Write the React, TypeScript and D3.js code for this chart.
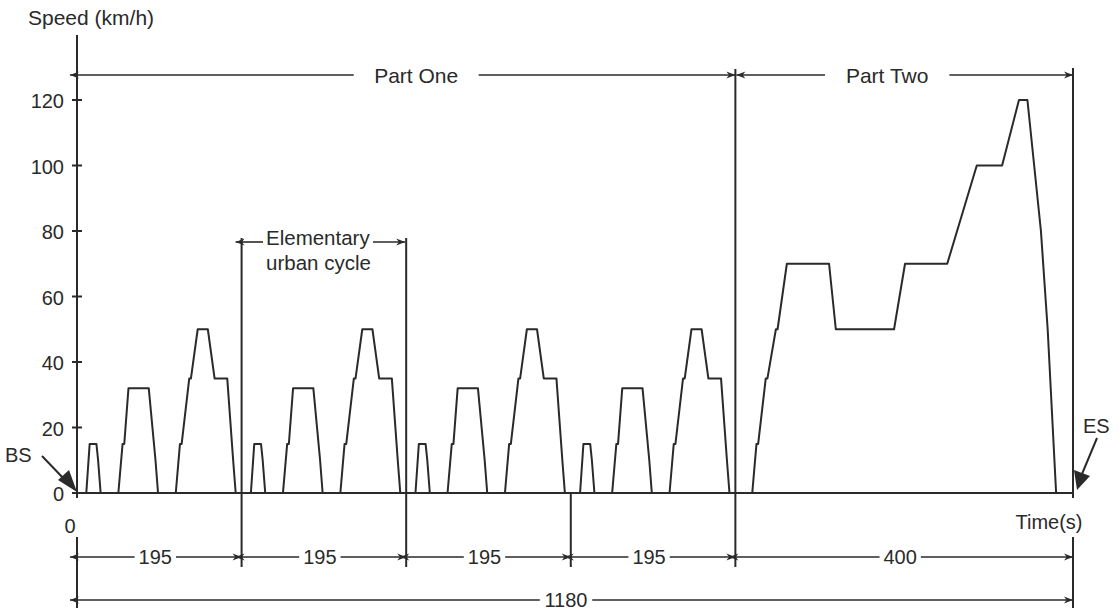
import React from "react";
import * as d3 from "d3";

// ---- data ----
const urbanSpeeds = [0, 0, 15, 15, 10, 0, 0, 15, 15, 32, 32, 10, 0, 0, 15, 15, 35, 35, 50, 50, 35, 35, 35, 10, 0, 0];
const urbanTimes1 = [0, 11, 15, 23, 25, 28, 49, 54, 56, 61, 85, 93, 96, 117, 122, 124, 133, 135, 143, 155, 163, 176, 178, 185, 188, 195];
const urbanTimes2 = [195, 206, 210, 218, 220, 223, 244, 249, 251, 256, 280, 288, 291, 312, 317, 319, 328, 330, 338, 350, 358, 371, 373, 380, 383, 390];
const urbanTimes3 = [390, 401, 405, 413, 415, 418, 439, 444, 446, 451, 475, 483, 486, 507, 512, 514, 523, 525, 533, 545, 553, 566, 568, 575, 578, 585];
const urbanTimes4 = [585, 596, 600, 608, 610, 613, 634, 639, 641, 646, 670, 678, 681, 702, 707, 709, 718, 720, 728, 740, 748, 761, 763, 770, 773, 780];
const extraUrbanTimes = [780, 800, 805, 807, 816, 818, 828, 830, 841, 891, 899, 968, 981, 1031, 1066, 1096, 1116, 1126, 1142, 1150, 1160, 1180];
const extraUrbanSpeeds = [0, 0, 15, 15, 35, 35, 50, 50, 70, 70, 50, 50, 70, 70, 100, 100, 120, 120, 80, 50, 0, 0];

const yTicks = [0, 20, 40, 60, 80, 100, 120];
const segmentBounds = [0, 195, 390, 585, 780, 1180];
const segmentLabels = ["195", "195", "195", "195", "400"];
const partBounds = [0, 780, 1180];
const partLabels = ["Part One", "Part Two"];
const totalLabel = "1180";
const cycleBounds = [195, 390];
const cycleLabel = ["Elementary", "urban cycle"];

const W = 1119;
const H = 610;
const FONT = "'Liberation Sans', Arial, Helvetica, sans-serif";
const INK = "#2a2a2a";

const x = d3.scaleLinear().domain([0, 1180]).range([77, 1073]);
const y = d3.scaleLinear().domain([0, 120]).range([493, 100]);

function textWidth(s: string, fs: number) {
  let w = 0;
  for (const c of s) {
    if (/[0-9]/.test(c)) w += 0.556;
    else if (c === " ") w += 0.278;
    else if ("Pw".includes(c)) w += 0.7;
    else if ("rt".includes(c)) w += 0.31;
    else if ("O".includes(c)) w += 0.778;
    else if ("T".includes(c)) w += 0.611;
    else w += 0.556;
  }
  return w * fs;
}

function Head({ tx, ty, dir, len = 9, half = 3.5 }: { tx: number; ty: number; dir: 1 | -1; len?: number; half?: number }) {
  const bx = tx - dir * len;
  const nx = tx - dir * len * 0.7;
  return <polygon points={`${tx},${ty} ${bx},${ty - half} ${nx},${ty} ${bx},${ty + half}`} fill={INK} />;
}

function DimRow({ x0, x1, yy, label, fs, pad, overshoot = 6, shift = 0 }: { x0: number; x1: number; yy: number; label: string; fs: number; pad: number; overshoot?: number; shift?: number }) {
  const cx = (x0 + x1) / 2 + shift;
  const tw = textWidth(label, fs);
  const gl = cx - tw / 2 - pad;
  const gr = cx + tw / 2 + pad;
  const lx = x0 - overshoot;
  const rx = x1;
  return (
    <g>
      <line x1={lx} x2={gl} y1={yy} y2={yy} stroke={INK} strokeWidth={1.6} />
      <line x1={gr} x2={rx} y1={yy} y2={yy} stroke={INK} strokeWidth={1.6} />
      <Head tx={lx} ty={yy} dir={-1} />
      <Head tx={rx} ty={yy} dir={1} />
      <text x={cx} y={yy} dy="0.36em" textAnchor="middle" fontSize={fs} fontFamily={FONT} fill={INK}>
        {label}
      </text>
    </g>
  );
}

export default function App() {
  const line = d3
    .line<[number, number]>()
    .x((d) => x(d[0]))
    .y((d) => y(d[1]));

  const urbanSets = [urbanTimes1, urbanTimes2, urbanTimes3, urbanTimes4];
  const urbanPaths = urbanSets.map((ts) => line(ts.map((t, i) => [t, urbanSpeeds[i]] as [number, number])) || "");
  const eudcPath = line(extraUrbanTimes.map((t, i) => [t, extraUrbanSpeeds[i]] as [number, number])) || "";

  const fs = 20;
  const yRow1 = 557;
  const yRow2 = 600;
  const yPart = 75;
  const yCycle = 242;
  const partShift = [10, -17];

  return (
    <svg width={W} height={H} style={{ position: "absolute", left: 0, top: 0, background: "#fff" }}>
      <rect width={W} height={H} fill="#fff" />
      <text x={28} y={25} fontSize={21} fontFamily={FONT} fill={INK}>
        Speed (km/h)
      </text>

      {/* y axis */}
      <line x1={x(0)} x2={x(0)} y1={35} y2={498} stroke={INK} strokeWidth={2} />
      {yTicks.map((v) => (
        <g key={v}>
          <line x1={x(0) - 5} x2={x(0) + 5} y1={y(v)} y2={y(v)} stroke={INK} strokeWidth={2} />
          <text x={64} y={y(v) + 8} textAnchor="end" fontSize={fs} fontFamily={FONT} fill={INK}>
            {v}
          </text>
        </g>
      ))}

      <line x1={x(0)} x2={x(1180)} y1={y(0)} y2={y(0)} stroke={INK} strokeWidth={2} />

      {/* speed trace */}
      {urbanPaths.map((p, i) => (
        <path key={i} d={p} fill="none" stroke={INK} strokeWidth={2} strokeLinejoin="round" />
      ))}
      <path d={eudcPath} fill="none" stroke={INK} strokeWidth={2} strokeLinejoin="round" />

      {/* vertical separators */}
      <line x1={x(0)} x2={x(0)} y1={537} y2={608} stroke={INK} strokeWidth={2} />
      <line x1={x(segmentBounds[1])} x2={x(segmentBounds[1])} y1={yCycle - 4} y2={567} stroke={INK} strokeWidth={2} />
      <line x1={x(segmentBounds[2])} x2={x(segmentBounds[2])} y1={yCycle - 4} y2={567} stroke={INK} strokeWidth={2} />
      <line x1={x(segmentBounds[3])} x2={x(segmentBounds[3])} y1={y(0)} y2={567} stroke={INK} strokeWidth={2} />
      <line x1={x(segmentBounds[4])} x2={x(segmentBounds[4])} y1={yPart - 6} y2={567} stroke={INK} strokeWidth={2} />
      <line x1={x(1180)} x2={x(1180)} y1={yPart - 7} y2={498} stroke={INK} strokeWidth={2} />
      <line x1={x(1180)} x2={x(1180)} y1={537} y2={608} stroke={INK} strokeWidth={2} />

      {/* Part rows */}
      {partLabels.map((lab, i) => (
        <DimRow key={lab} x0={x(partBounds[i])} x1={x(partBounds[i + 1])} yy={yPart} label={lab} fs={21} pad={20} overshoot={i === 0 ? 7 : -1} shift={partShift[i]} />
      ))}

      {/* elementary urban cycle */}
      <g>
        <line x1={x(cycleBounds[0]) - 6} x2={263} y1={yCycle} y2={yCycle} stroke={INK} strokeWidth={1.6} />
        <Head tx={x(cycleBounds[0]) - 6} ty={yCycle} dir={-1} />
        <line x1={373} x2={x(cycleBounds[1]) - 1} y1={yCycle} y2={yCycle} stroke={INK} strokeWidth={1.6} />
        <Head tx={x(cycleBounds[1]) - 1} ty={yCycle} dir={1} />
        <text x={266} y={245} fontSize={20.5} fontFamily={FONT} fill={INK}>
          {cycleLabel[0]}
        </text>
        <text x={266} y={270} fontSize={20.5} fontFamily={FONT} fill={INK}>
          {cycleLabel[1]}
        </text>
      </g>

      {/* segment rows */}
      {segmentLabels.map((lab, i) => (
        <DimRow key={i} x0={x(segmentBounds[i])} x1={x(segmentBounds[i + 1])} yy={yRow1} label={lab} fs={fs} pad={4} overshoot={i === 0 ? 7 : 6} shift={-4} />
      ))}
      <DimRow x0={x(0)} x1={x(1180)} yy={yRow2} label={totalLabel} fs={fs} pad={4} overshoot={7} shift={-9} />

      <text x={70} y={533} textAnchor="middle" fontSize={fs} fontFamily={FONT} fill={INK}>
        0
      </text>
      <text x={1049} y={529} textAnchor="middle" fontSize={fs} fontFamily={FONT} fill={INK}>
        Time(s)
      </text>

      {/* BS / ES */}
      <text x={5} y={462} fontSize={fs} fontFamily={FONT} fill={INK}>
        BS
      </text>
      <line x1={42} y1={456} x2={66} y2={481} stroke={INK} strokeWidth={2} />
      <polygon points="77,492 58,480 69,470" fill={INK} />
      <text x={1083} y={433} fontSize={fs} fontFamily={FONT} fill={INK}>
        ES
      </text>
      <line x1={1097} y1={438} x2={1082} y2={474} stroke={INK} strokeWidth={2} />
      <polygon points="1077,490 1074,470 1090,476" fill={INK} />
    </svg>
  );
}
